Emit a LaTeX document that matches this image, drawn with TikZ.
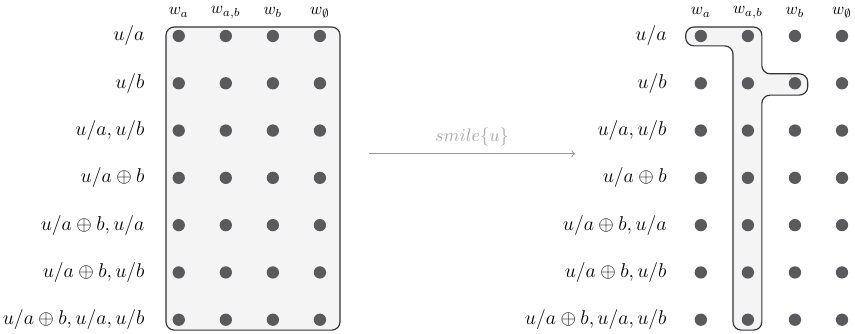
\documentclass[tikz,border=0pt]{standalone}
\usepackage{amssymb}
\definecolor{dotgray}{HTML}{5A5A5E}
\definecolor{boxfill}{HTML}{F3F4F3}
\definecolor{boxline}{HTML}{333333}
\definecolor{arrgray}{HTML}{9A9A9A}
\tikzset{
  world/.style={circle,fill=dotgray,inner sep=0pt,minimum size=7.4pt},
  rowlab/.style={anchor=east,font=\large},
  collab/.style={font=\normalsize},
  region/.style={draw=boxline,fill=boxfill,line width=0.7pt,rounded corners=5pt}
}
\begin{document}
\begin{tikzpicture}
\useasboundingbox (0,0.761) rectangle (18.08,-6.30);
% left: every world
\draw[region] (3.51,0.19) rectangle (7.19,-6.22);
% right: worlds picked out by smile{u}
\draw[region] (14.50,0.19) -- (16.11,0.19) -- (16.11,-0.80) -- (17.08,-0.80) -- (17.08,-1.25)
  -- (16.11,-1.25) -- (16.11,-6.22) -- (15.50,-6.22) -- (15.50,-0.21) -- (14.50,-0.21) -- cycle;
\foreach \g/\x in {L/3.78,R/14.82} {
  \foreach \c/\w in {0/{w_a},1/{w_{a,b}},2/{w_b},3/{w_\emptyset}}
    \node[collab] (\g-h\c) at (\x+\c*0.995,0.5) {$\w$};
  \foreach \r/\t in {0/{u/a},1/{u/b},2/{u/a, u/b},3/{u/a\oplus b},4/{u/a\oplus b, u/a},5/{u/a\oplus b, u/b},6/{u/a\oplus b, u/a, u/b}} {
    \node[rowlab] (\g-l\r) at (\x-0.6,-\r) {$\t$};
    \foreach \c in {0,...,3} \node[world] (\g-\r-\c) at (\x+\c*0.995,-\r) {};
  }
}
\coordinate (from) at (7.80,-2.49);
\coordinate (to) at (12.16,-2.49);
\draw[->,arrgray,line width=0.6pt] (from) -- (to) node[midway,above=1pt,text=arrgray!85,font=\fontsize{11}{13}\selectfont] {$smile\{u\}$};
\end{tikzpicture}
\end{document}
